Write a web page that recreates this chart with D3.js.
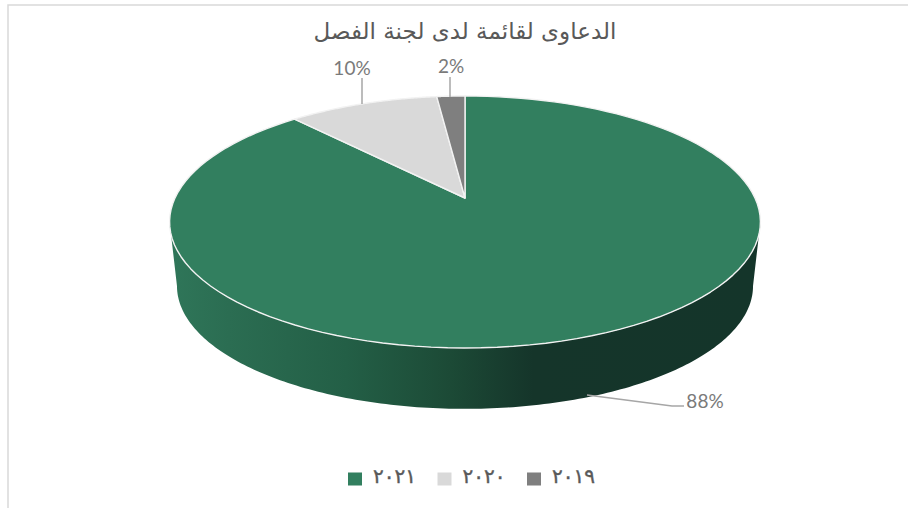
<!DOCTYPE html>
<html>
<head>
<meta charset="utf-8">
<script src="https://cdn.jsdelivr.net/npm/d3@7"></script>
<style>
html, body { margin: 0; padding: 0; background: #fff; }
svg { display: block; }
</style>
</head>
<body>
<div id="chart"></div>
<script>
const chartTitle = "الدعاوى لقائمة لدى لجنة الفصل";
const years = ["٢٠٢١", "٢٠٢٠", "٢٠١٩"];
const shares = [88.3, 9.85, 1.85];
const shareLabels = ["88%", "10%", "2%"];
const sliceColors = ["#327f5f", "#d9d9d9", "#7f7f7f"];

const width = 908;
const height = 508;

const svg = d3.select("#chart").append("svg")
    .attr("width", width)
    .attr("height", height);

// side wall shading, left to right
const sideStops = [
    [0, "#2f7659"], [0.1, "#2b6d52"], [0.3, "#235f46"], [0.475, "#1c4a36"], [0.615, "#15352a"], [1, "#14352a"]
];
const grad = svg.append("defs").append("linearGradient")
    .attr("id", "side")
    .attr("x1", "0%").attr("x2", "100%").attr("y1", "0%").attr("y2", "0%");
grad.selectAll("stop").data(sideStops).enter().append("stop")
    .attr("offset", d => d[0])
    .attr("stop-color", d => d[1]);

// outer frame
svg.append("path")
    .attr("d", "M8,508V5H908")
    .attr("fill", "none")
    .attr("stroke", "#d9d9d9")
    .attr("stroke-width", 1.5);

const pie = d3.pie().sort(null).value(d => d);
const arcs = pie(shares);

// tilted disc: the apex sits above the middle of the ellipse, so use a projective map
const cx = 465, apexY = 198;
const persp = 0.1905, yA = -83.7, halfW = 290;
function project(angle) {
    const u = Math.sin(angle), v = Math.cos(angle), w = 1 + persp * v;
    return [cx + halfW * u / w, (yA * v + apexY) / w];
}
// lower rim is a little narrower than the top one
const midY = 222, rimScale = 0.975, rimDrop = 64;
function projectLow(angle) {
    const p = project(angle);
    return [cx + (p[0] - cx) * rimScale, midY + (p[1] - midY) * rimScale + rimDrop];
}

const line = d3.line();
const steps = a => d3.range(0, 121).map(i => a.startAngle + (a.endAngle - a.startAngle) * i / 120);

// front wall, between the widest points of the two rims
const widest = Math.acos(-persp);
const sideAngles = d3.range(0, 181).map(i => widest + (2 * Math.PI - 2 * widest) * i / 180);
svg.append("path")
    .attr("d", line(sideAngles.map(project).concat(sideAngles.slice().reverse().map(projectLow))) + "Z")
    .attr("fill", "url(#side)");

// top slices
svg.selectAll("path.slice").data(arcs).enter().append("path")
    .attr("class", "slice")
    .attr("d", a => line([[cx, apexY]].concat(steps(a).map(project))) + "Z")
    .attr("fill", (a, i) => sliceColors[i])
    .attr("stroke", "#f2f2f2")
    .attr("stroke-width", 1.4)
    .attr("stroke-linejoin", "round");

// leader lines and labels
const leaders = [
    [[587, 395], [672, 406], [684, 406]],
    [[362, 104], [362, 78]],
    [[450, 97], [450, 77]]
];
const labelAt = [[705, 401.5], [352, 68.5], [451, 66.5]];

svg.selectAll("path.leader").data(leaders).enter().append("path")
    .attr("class", "leader")
    .attr("d", d => line(d))
    .attr("fill", "none")
    .attr("stroke", "#a6a6a6")
    .attr("stroke-width", 1.5);

svg.selectAll("text.pct").data(shareLabels).enter().append("text")
    .attr("class", "pct")
    .attr("x", (d, i) => labelAt[i][0])
    .attr("y", (d, i) => labelAt[i][1])
    .attr("dy", "0.35em")
    .attr("text-anchor", "middle")
    .attr("font-family", "Lato, sans-serif")
    .attr("font-size", 19)
    .attr("fill", "#7a7a7a")
    .text(d => d);

svg.append("text")
    .attr("x", 465)
    .attr("y", 31)
    .attr("dy", "0.35em")
    .attr("text-anchor", "middle")
    .attr("direction", "rtl")
    .attr("font-family", "'DejaVu Sans', sans-serif")
    .attr("font-size", 23)
    .attr("fill", "#595959")
    .text(chartTitle);

// legend
const legendX = d3.scalePoint().domain(years).range([355, 534]);
const legend = svg.selectAll("g.key").data(years).enter().append("g")
    .attr("class", "key")
    .attr("transform", d => `translate(${legendX(d)},479)`);
legend.append("rect")
    .attr("x", -7).attr("y", -6.5)
    .attr("width", 14).attr("height", 13)
    .attr("fill", (d, i) => sliceColors[i]);
legend.append("text")
    .attr("x", 18)
    .attr("y", -3)
    .attr("dy", "0.35em")
    .attr("font-family", "'DejaVu Sans', sans-serif")
    .attr("font-size", 20)
    .attr("fill", "#595959")
    .attr("stroke", "#595959")
    .attr("stroke-width", 0.4)
    .text(d => d);
</script>
</body>
</html>
